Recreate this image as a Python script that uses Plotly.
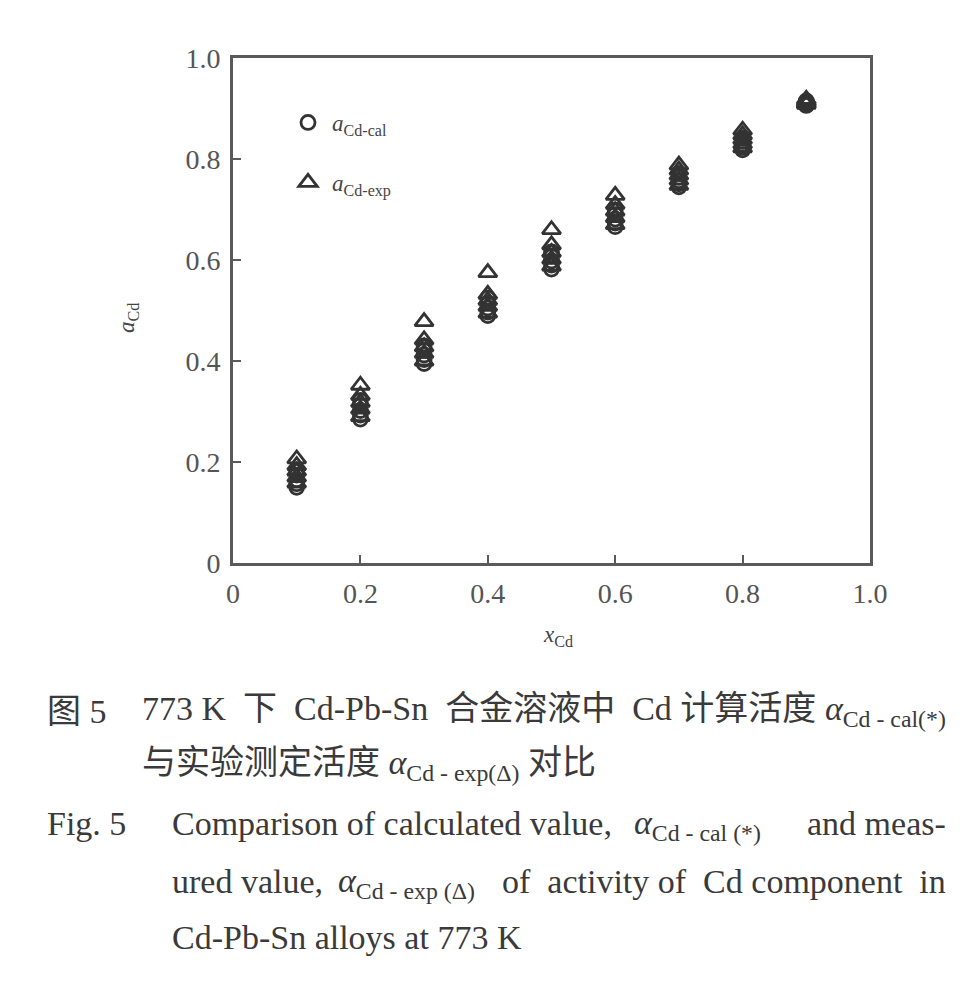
import plotly.graph_objects as go

# ---- data ----
x_cd = [0.1, 0.2, 0.3, 0.4, 0.5, 0.6, 0.7, 0.8, 0.9]

# calculated activities, several alloy compositions per x_Cd
a_cal_1 = [0.150, 0.285, 0.395, 0.490, 0.582, 0.666, 0.745, 0.818, 0.906]
a_cal_2 = [0.157, 0.293, 0.403, 0.497, 0.590, 0.673, 0.751, 0.823, 0.908]
a_cal_3 = [0.165, 0.302, 0.412, 0.505, 0.598, 0.681, 0.757, 0.829, 0.911]
a_cal_4 = [0.174, 0.312, 0.421, 0.515, 0.607, 0.690, 0.764, 0.835, 0.913]
a_cal_5 = [0.182, 0.322, 0.430, 0.525, 0.616, 0.699, 0.771, 0.841, 0.915]

# measured activities
a_exp_1 = [0.158, 0.290, 0.400, 0.495, 0.588, 0.670, 0.748, 0.822, 0.908]
a_exp_2 = [0.170, 0.305, 0.415, 0.508, 0.602, 0.684, 0.758, 0.830, 0.910]
a_exp_3 = [0.182, 0.318, 0.428, 0.520, 0.615, 0.697, 0.768, 0.839, 0.913]
a_exp_4 = [0.193, 0.332, 0.442, 0.532, 0.630, 0.710, 0.778, 0.848, 0.915]
a_exp_5 = [0.206, 0.352, 0.478, 0.575, 0.660, 0.728, 0.788, 0.857, 0.918]

tick_vals = [0, 0.2, 0.4, 0.6, 0.8, 1.0]
tick_text = ["0", "0.2", "0.4", "0.6", "0.8", "1.0"]

cal_series = [a_cal_1, a_cal_2, a_cal_3, a_cal_4, a_cal_5]
exp_series = [a_exp_1, a_exp_2, a_exp_3, a_exp_4, a_exp_5]

INK = "#333333"
SERIF = "Liberation Serif, Noto Sans CJK SC, serif"

fig = go.Figure()

for i, ys in enumerate(exp_series):
    fig.add_trace(go.Scatter(
        x=x_cd, y=ys, mode="markers",
        marker=dict(symbol="triangle-up-open", size=16, color=INK,
                    line=dict(width=2.8, color=INK)),
        name="<i>a</i><sub>Cd-exp</sub>", legendgroup="exp",
        legendrank=2, showlegend=(i == 0)))

for i, ys in enumerate(cal_series):
    fig.add_trace(go.Scatter(
        x=x_cd, y=ys, mode="markers",
        marker=dict(symbol="circle-open", size=14, color=INK,
                    line=dict(width=2.8, color=INK)),
        name="<i>a</i><sub>Cd-cal</sub>", legendgroup="cal",
        legendrank=1, showlegend=(i == 0)))

# reference-pixel frame of the plot area (page has an 8px body margin)
OFF = 8
L, R, T, B = 233, 870, 58, 563
W, H = 980 - 2 * OFF, 985 - 2 * OFF


def px(X):
    return (X - L) / (R - L)


def py(Y):
    return (B - Y) / (B - T)


axis_common = dict(
    range=[0, 1.0], tickvals=tick_vals, ticktext=tick_text,
    showline=True, linecolor="#5a5a5a", linewidth=3, mirror=True,
    ticks="inside", ticklen=8, tickwidth=2, tickcolor="#5a5a5a",
    showgrid=False, zeroline=False,
    tickfont=dict(family=SERIF, size=28, color="#555555"),
)

fig.update_layout(
    width=W, height=H,
    margin=dict(l=L - OFF, r=W - (R - OFF), t=T - OFF, b=H - (B - OFF)),
    paper_bgcolor="white", plot_bgcolor="white",
    xaxis=dict(**axis_common, ticklabelstandoff=3),
    yaxis=dict(**axis_common, ticklabelstandoff=4),
    showlegend=True,
    legend=dict(x=px(284), y=py(101), xanchor="left", yanchor="top",
                bgcolor="rgba(0,0,0,0)", tracegroupgap=27,
                font=dict(family=SERIF, size=23, color="#444444"),
                itemwidth=38),
)

annotations = []
# axis titles
annotations.append(dict(x=px(558), y=py(652), xref="paper", yref="paper",
                        text="<i>x</i><sub>Cd</sub>", showarrow=False,
                        font=dict(family=SERIF, size=23, color="#444444")))
annotations.append(dict(x=px(112), y=py(318), xref="paper", yref="paper",
                        text="<i>a</i><sub>Cd</sub>", showarrow=False, textangle=-90,
                        font=dict(family=SERIF, size=23, color="#444444")))

NB = "\u00a0"
cap_font = dict(family=SERIF, size=34, color="#3a3a3a")
captions = [
    (45, 711, "left", "图 5"),
    (140, 711, "left",
     "773 K " + NB + "下 " + NB + "Cd-Pb-Sn " + NB + "合金溶液中 " + NB + "Cd "
     + "计算活度 <i>α</i><sub>Cd - cal(*)</sub>"),
    (140, 765, "left", "与实验测定活度 <i>α</i><sub>Cd - exp(Δ)</sub> 对比"),
    (45, 823, "left", "Fig. 5"),
    (170, 823, "left", "Comparison of calculated value,"),
    (632, 825, "left", "<i>α</i><sub>Cd - cal (*)</sub>"),
    (948, 823, "right", "and meas-"),
    (170, 881, "left", "ured value,"),
    (336, 883, "left", "<i>α</i><sub>Cd - exp (Δ)</sub>"),
    (948, 881, "right",
     "of " + NB + "activity of " + NB + "Cd component " + NB + "in"),
    (170, 937, "left", "Cd-Pb-Sn alloys at 773 K"),
]
for X, Y, anc, txt in captions:
    annotations.append(dict(x=px(X), y=py(Y), xref="paper", yref="paper",
                            xanchor=anc, yanchor="middle", text=txt,
                            showarrow=False, font=cap_font))

fig.update_layout(annotations=annotations)

fig.write_html("out.html")
